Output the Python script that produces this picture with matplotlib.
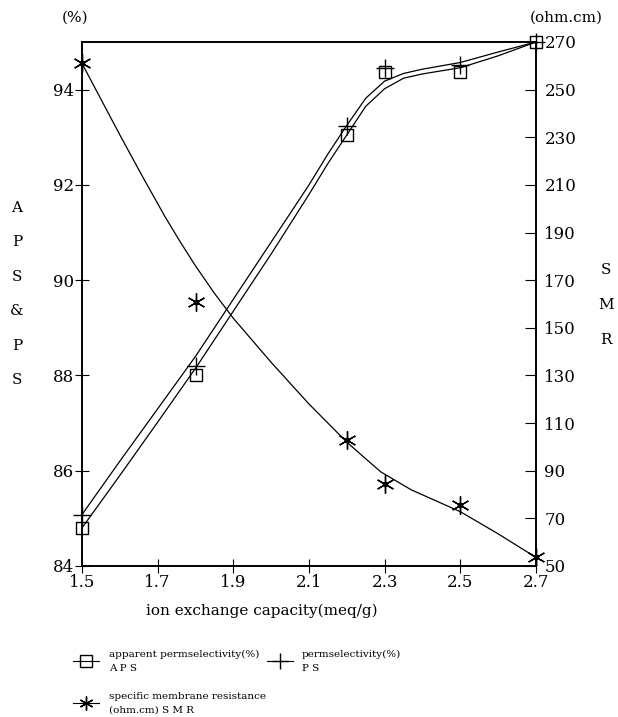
import matplotlib
matplotlib.use('Agg')
import matplotlib.pyplot as plt
from matplotlib.lines import Line2D

# measured points
capacity = [1.5, 1.8, 2.2, 2.3, 2.5, 2.7]
aps = [84.8, 88.0, 93.05, 94.36, 94.36, 95.0]
ps = [85.08, 88.2, 93.23, 94.45, 94.52, 95.0]
smr = [261, 161, 103, 84.4, 75.5, 53.8]

# fitted curves
fit_x = [1.5, 1.6, 1.7, 1.8, 1.9, 2.0, 2.1, 2.15, 2.2, 2.25, 2.3, 2.35, 2.4, 2.5, 2.6, 2.7]
ps_fit = [85.08, 86.2, 87.3, 88.4, 89.6, 90.8, 92.0, 92.65, 93.25, 93.82, 94.18, 94.34, 94.43, 94.57, 94.79, 95.0]
aps_fit = [84.8, 85.9, 87.02, 88.15, 89.35, 90.55, 91.8, 92.45, 93.05, 93.65, 94.02, 94.24, 94.33, 94.46, 94.71, 95.0]
smr_fit_x = [1.5, 1.6, 1.66, 1.72, 1.76, 1.8, 1.85, 1.9, 2.0, 2.1, 2.15, 2.2, 2.25, 2.29, 2.37, 2.5, 2.6, 2.7]
smr_fit = [261, 231, 213.5, 196.5, 186, 176, 164.5, 154, 135.5, 118, 110, 102, 95, 89.5, 82, 72.8, 63.5, 53.6]

x_ticks = [1.5, 1.7, 1.9, 2.1, 2.3, 2.5, 2.7]
left_ticks = [84, 86, 88, 90, 92, 94]
right_ticks = [50, 70, 90, 110, 130, 150, 170, 190, 210, 230, 250, 270]

left_letters = ['A', 'P', 'S', '&', 'P', 'S']
right_letters = ['S', 'M', 'R']

plt.rcParams['font.family'] = ['DejaVu Serif']

W, H = 618, 717
fig = plt.figure(figsize=(W / 100, H / 100), dpi=100)
ax = fig.add_axes([82 / W, 1 - 566 / H, 454 / W, 524 / H])
ax2 = ax.twinx()

ax.plot(fit_x, ps_fit, color='black', lw=0.9)
ax.plot(fit_x, aps_fit, color='black', lw=0.9)
ax.plot(capacity, aps, ls='none', marker='s', ms=9, mfc='none', mec='black', mew=1.0, clip_on=False)
ax.plot(capacity, ps, ls='none', marker='+', ms=13, mec='black', mew=1.0, clip_on=False)

ax2.plot(smr_fit_x, smr_fit, color='black', lw=0.9)
ax2.plot(capacity, smr, ls='none', marker=(6, 2, 0), ms=13, mec='black', mew=1.0, clip_on=False)
ax2.plot(capacity, smr, ls='none', marker='o', ms=3, color='black', clip_on=False)

ax.set_xlim(1.5, 2.7)
ax.set_ylim(84, 95)
ax2.set_ylim(50, 270)
ax.set_xticks(x_ticks)
ax.set_xticklabels([f'{v:.1f}' for v in x_ticks])
ax.set_yticks(left_ticks)
ax2.set_yticks(right_ticks)

for a in (ax, ax2):
    for s in a.spines.values():
        s.set_linewidth(1.2)
ax.tick_params(axis='x', direction='inout', length=10, labelsize=12, pad=1)
ax.tick_params(axis='y', direction='inout', length=10, labelsize=12, pad=1)
ax2.tick_params(axis='y', direction='in', length=8, labelsize=12, pad=6)

ax.set_xlabel('ion exchange capacity(meq/g)', fontsize=11)
ax.xaxis.set_label_coords((262 - 82) / 454, -(611 - 566) / 524)
ax.xaxis.label.set_va('center')

fig.text(75 / W, 1 - 18 / H, '(%)', ha='center', va='center', fontsize=11)
fig.text(566 / W, 1 - 18 / H, '(ohm.cm)', ha='center', va='center', fontsize=11)

for i, ch in enumerate(left_letters):
    fig.text(17 / W, 1 - (208 + i * 34.4) / H, ch, ha='center', va='center', fontsize=11)
for i, ch in enumerate(right_letters):
    fig.text(606 / W, 1 - (270 + i * 35) / H, ch, ha='center', va='center', fontsize=11)

handles = [
    Line2D([], [], color='black', lw=0.8, marker='s', ms=8, mfc='none'),
    Line2D([], [], color='black', lw=0.8, marker=(6, 2, 0), ms=10),
    Line2D([], [], color='black', lw=0.8, marker='+', ms=12),
]
labels = [
    'apparent permselectivity(%)\nA P S',
    'specific membrane resistance\n(ohm.cm) S M R',
    'permselectivity(%)\nP S',
]
leg = fig.legend(handles, labels, loc='upper left', bbox_to_anchor=(68 / W, 1 - 645 / H),
                 ncol=2, frameon=False, fontsize=7.5, handlelength=2.5, handletextpad=0.9,
                 columnspacing=0.1, labelspacing=1.9, borderpad=0)
for t in leg.get_texts():
    t.set_linespacing(1.6)

fig.savefig('out.png', dpi=100)
